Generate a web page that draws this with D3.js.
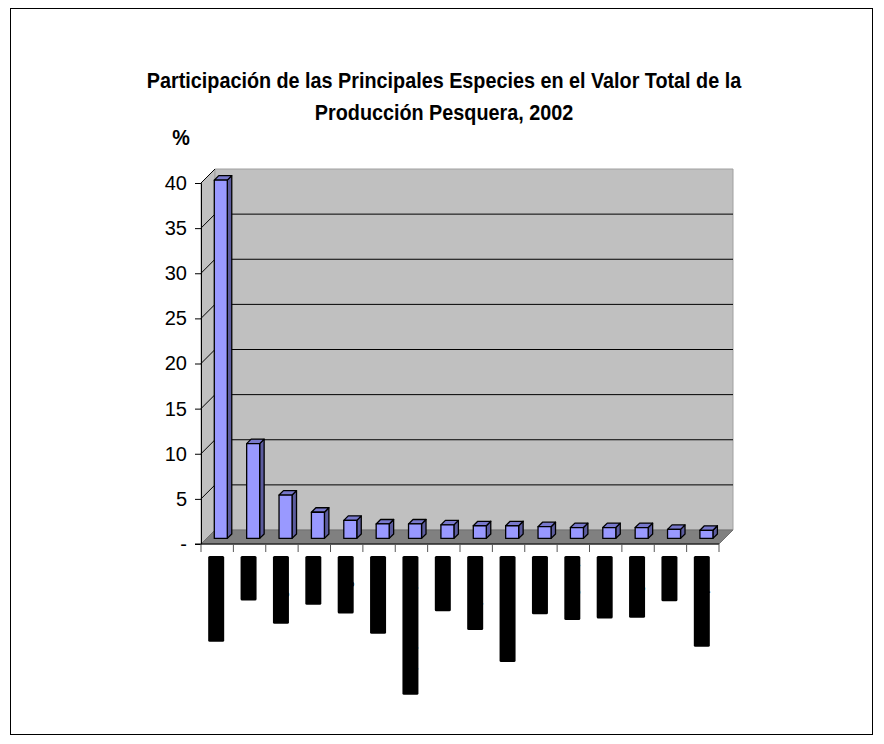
<!DOCTYPE html>
<html>
<head>
<meta charset="utf-8">
<script src="https://cdn.jsdelivr.net/npm/d3@7/dist/d3.min.js"></script>
<style>
  body { margin: 0; background: #fff; }
  svg { display: block; }
</style>
</head>
<body>
<svg id="chart" width="884" height="744"></svg>
<script>
// ---- data ----
const titleLines = ["Participación de las Principales Especies en el Valor Total de la", "Producción Pesquera, 2002"];
const yAxisTitle = "%";
const categories = ["Camarón total", "Atunes", "Langostino", "Sardina", "Langosta", "Erizo de mar",
  "Tilapia y otras mojarras", "Corvinas", "Carpa china", "Ostión americano", "Abulones", "Pargo rojo",
  "Jaiba azul", "Lenguado", "Sierras", "Otras especies"];
const values = [39.7, 10.5, 4.8, 2.9, 2.0, 1.6, 1.6, 1.5, 1.4, 1.4, 1.3, 1.2, 1.2, 1.2, 1.0, 0.9];
const yTicks = [0, 5, 10, 15, 20, 25, 30, 35, 40];
const yTickLabels = ["-", "5", "10", "15", "20", "25", "30", "35", "40"];

// ---- layout ----
const svg = d3.select("#chart");
const sans = "'Liberation Sans', Arial, sans-serif";
const X0 = 201, X1 = 719, Y0 = 544, Ytop = 183;
const DX = 14, DY = -14;          // depth of the 3D box
const barF = 0.4, barD = 0.32;    // bar depth position / thickness (fraction of depth)

const x = d3.scaleBand().domain(categories).range([X0, X1]).paddingInner(0).paddingOuter(0);
const y = d3.scaleLinear().domain([0, 40]).range([Y0, Ytop]);

// outer frame
svg.append("rect").attr("x", 10.5).attr("y", 8.5).attr("width", 862).attr("height", 726)
  .attr("fill", "#fff").attr("stroke", "#000").attr("stroke-width", 1);

// title (condensed look)
const tg = svg.append("g").attr("transform", "translate(444,0) scale(0.9,1)");
tg.selectAll("text").data(titleLines).join("text")
  .attr("x", 0).attr("y", (d, i) => 88 + i * 32)
  .attr("text-anchor", "middle").attr("font-family", sans)
  .attr("font-weight", "bold").attr("font-size", 22).text(d => d);

svg.append("g").attr("transform", "translate(181,0) scale(0.9,1)")
  .append("text").attr("x", 0).attr("y", 145).attr("text-anchor", "middle")
  .attr("font-family", sans).attr("font-weight", "bold").attr("font-size", 22).text(yAxisTitle);

const pts = p => p.map(q => q.join(",")).join(" ");

// side wall
svg.append("polygon").attr("points", pts([[X0, Y0], [X0, Ytop], [X0 + DX, Ytop + DY], [X0 + DX, Y0 + DY]]))
  .attr("fill", "#c0c0c0").attr("stroke", "#a0a0a0").attr("stroke-width", 1);
// back wall
svg.append("polygon").attr("points", pts([[X0 + DX, Y0 + DY], [X0 + DX, Ytop + DY], [X1 + DX, Ytop + DY], [X1 + DX, Y0 + DY]]))
  .attr("fill", "#c0c0c0").attr("stroke", "#a0a0a0").attr("stroke-width", 1);
// floor
svg.append("polygon").attr("points", pts([[X0, Y0], [X1, Y0], [X1 + DX, Y0 + DY], [X0 + DX, Y0 + DY]]))
  .attr("fill", "#808080").attr("stroke", "#707070").attr("stroke-width", 1);

// gridlines (back wall + side wall diagonals)
const grid = svg.append("g");
yTicks.filter(v => v > 0 && v < 40).forEach(v => {
  grid.append("line").attr("x1", X0 + DX).attr("x2", X1 + DX)
    .attr("y1", y(v) + DY).attr("y2", y(v) + DY).attr("stroke", "#000").attr("stroke-width", 1);
});
yTicks.filter(v => v > 0).forEach(v => {
  grid.append("line").attr("x1", X0).attr("x2", X0 + DX)
    .attr("y1", y(v)).attr("y2", y(v) + DY).attr("stroke", "#000").attr("stroke-width", 1);
});

// y axis
const yAxis = d3.axisLeft(y).tickValues(yTicks).tickSize(6).tickPadding(8)
  .tickFormat((d, i) => yTickLabels[i]);
const ya = svg.append("g").attr("transform", `translate(${X0},0)`).call(yAxis);
ya.select(".domain").attr("stroke", "#000");
ya.selectAll("text").attr("font-family", sans).attr("font-size", 20).attr("fill", "#000");

// x axis (ticks at band boundaries)
const xa = svg.append("g").attr("transform", `translate(0,${Y0})`);
xa.append("line").attr("x1", X0 - 6).attr("x2", X1).attr("y1", 0).attr("y2", 0).attr("stroke", "#000");
const bounds = categories.map(c => x(c)).concat([X1]);
xa.selectAll("line.tk").data(bounds).join("line").attr("class", "tk")
  .attr("x1", d => d).attr("x2", d => d).attr("y1", 0).attr("y2", 8).attr("stroke", "#555");

// bars
const bw = 13;
const fx = DX * barF, fy = DY * barF;
const bdx = DX * barD, bdy = DY * barD;
const bars = svg.append("g");
categories.forEach((c, i) => {
  const v = values[i];
  const left = x(c) + (x.bandwidth() - bw) / 2 + fx - 2;
  const bottom = y(0) + fy, top = y(v) + fy;
  const g = bars.append("g").attr("stroke", "#000").attr("stroke-width", 1.3).attr("stroke-linejoin", "round");
  g.append("polygon").attr("points", pts([[left + bw, bottom], [left + bw, top], [left + bw + bdx, top + bdy], [left + bw + bdx, bottom + bdy]]))
    .attr("fill", "#5c5c9e");
  g.append("polygon").attr("points", pts([[left, top], [left + bw, top], [left + bw + bdx, top + bdy], [left + bdx, top + bdy]]))
    .attr("fill", "#7878cc");
  g.append("rect").attr("x", left).attr("y", top).attr("width", bw).attr("height", bottom - top)
    .attr("fill", "#9999ff");
});

// category labels (rotated; shown as solid black blocks like the reference)
const lab = svg.append("g");
categories.forEach((c, i) => {
  const cx = x(c) + x.bandwidth() / 2 - 1;
  const g = lab.append("g").attr("transform", `translate(${cx},556) rotate(-90)`);
  const t = g.append("text").attr("x", 0).attr("y", 5).attr("text-anchor", "end")
    .attr("font-family", sans).attr("font-size", 13)
    .attr("fill", "#000").text(c);
  const len = t.node().getComputedTextLength();
  g.insert("rect", "text").attr("x", -len - 4).attr("y", -8).attr("width", len + 4).attr("height", 16)
    .attr("rx", 1.5).attr("fill", "#000");
});
</script>
</body>
</html>
